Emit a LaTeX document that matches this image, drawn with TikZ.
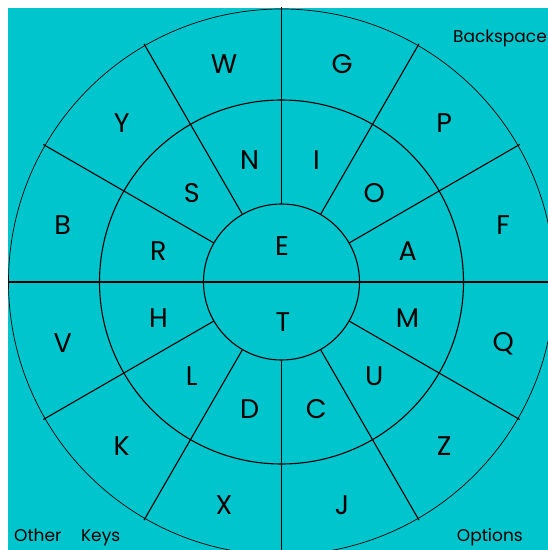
\documentclass[tikz,border=0pt]{standalone}
\usepackage{fontspec}
\setmainfont{Poppins}
\usetikzlibrary{calc}
\definecolor{bgturq}{HTML}{00C5CD}
\tikzset{
  bigletter/.style={font=\fontsize{27}{30}\selectfont, inner sep=0pt, anchor=center, xshift=1.5pt, yshift=-2.5pt},
  smalltext/.style={font=\fontsize{17}{20}\selectfont, inner sep=0pt},
  divider/.style={line width=1.1pt},
  ringline/.style={line width=1.1pt},
  outerline/.style={line width=0.7pt}
}
\begin{document}
\begin{tikzpicture}[x=1pt,y=1pt]
\useasboundingbox (0,0) rectangle (548,550);
\fill[bgturq] (8,0) rectangle (548,542);
\coordinate (c) at (281.5,268);
\begin{scope}
\clip (8,0) rectangle (548,542);
\draw[outerline] (c) circle (273);
\foreach \a in {0,30,...,330} {
  \draw[divider] ($(c)+(\a:78)$) -- ($(c)+(\a:275)$);
}
\end{scope}
\draw[ringline] (c) circle (182);
\draw[ringline] (c) circle (78);
\draw[divider] ($(c)+(180:78)$) -- ($(c)+(0:78)$);
% centre
\node[bigletter] (E) at ($(c)+(-1,38.5)$) {E};
\node[bigletter] (T) at ($(c)+(0,-38)$) {T};
% middle ring
\foreach \n/\a in {I/75,O/45,A/15,M/-15,U/-45,C/-75,D/-105,L/-135,H/-165,R/165,S/135,N/105} {
  \node[bigletter] (m\n) at ($(c)+(\a:129)$) {\n};
}
% outer ring
\foreach \n/\a in {G/75,P/45,F/15,Q/-15,Z/-45,J/-75,X/-105,K/-135,V/-165,B/165,Y/135,W/105} {
  \node[bigletter] (o\n) at ($(c)+(\a:228)$) {\n};
}
\node[smalltext, anchor=east] (bs) at (547,512) {Backspace};
\node[smalltext, anchor=west] (ok) at (14,13) {Other\hspace{1.15em}Keys};
\node[smalltext, anchor=east] (op) at (523,13) {Options};
\end{tikzpicture}
\end{document}
